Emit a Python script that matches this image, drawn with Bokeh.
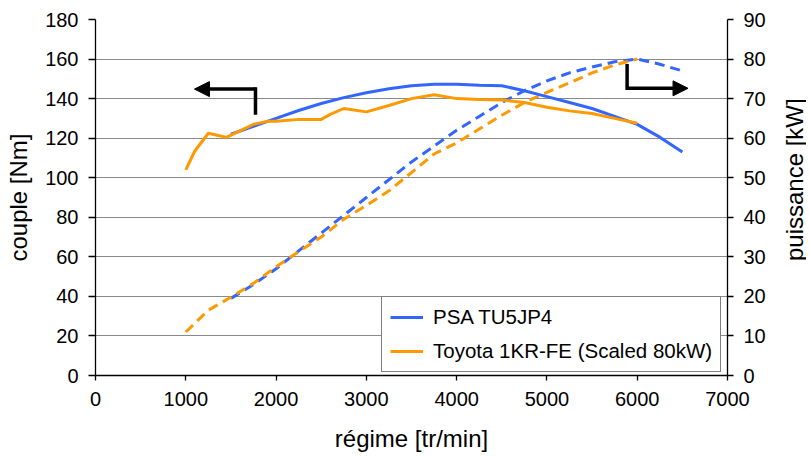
import math
from bokeh.plotting import figure
from bokeh.layouts import row
from bokeh.models import (Range1d, LinearAxis, SingleIntervalTicker, Legend,
                          LegendItem, Arrow, NormalHead, Label)
from bokeh.embed import file_html
from bokeh.resources import INLINE

# ---------------- data ----------------
psa_torque_rpm = [1500, 1750, 2000, 2250, 2500, 2750, 3000, 3250, 3500, 3750, 4000, 4250, 4500,
                  4750, 5000, 5250, 5500, 5750, 6000, 6250, 6500]
psa_torque_nm = [122, 126, 130, 134, 137.5, 140.5, 143, 145, 146.5, 147.3, 147.3, 146.8, 146.5,
                 144, 141, 138, 135, 131, 127, 120.5, 113]

psa_power_rpm = [1500, 1750, 2000, 2250, 2500, 2750, 3000, 3250, 3500, 3750, 4000, 4250, 4500,
                 4750, 5000, 5250, 5500, 5750, 6000, 6250, 6500]
psa_power_kw = [19.5, 23, 27, 31.5, 36, 40.5, 45, 49.5, 54, 58, 62, 65.5, 69,
                72, 74.5, 76.5, 78, 79.3, 80, 78.7, 77]

toy_torque_rpm = [1000, 1100, 1250, 1350, 1450, 1600, 1750, 1900, 2000, 2250, 2500, 2600, 2750,
                  3000, 3250, 3500, 3750, 4000, 4250, 4500, 4750, 5000, 5250, 5500, 5750, 6000]
toy_torque_nm = [104, 113.5, 122.5, 121.5, 120.4, 123.7, 127, 128.5, 128.5, 129.5, 129.5, 132, 135,
                 133.3, 136.5, 140, 142, 140, 139.5, 139.3, 138, 135.6, 133.8, 132.5, 130, 127.5]

toy_power_rpm = [1000, 1250, 1500, 1750, 2000, 2250, 2500, 2750, 3000, 3250, 3500, 3750, 4000,
                 4250, 4500, 4750, 5000, 5250, 5500, 5750, 6000]
toy_power_kw = [11, 16.5, 19.8, 23.3, 27.5, 31.3, 35, 39.5, 43, 46.7, 51.3, 56, 58.8,
                62.3, 65.8, 69, 71.6, 74, 76.5, 78.5, 80]

legend_labels = ["PSA TU5JP4", "Toyota 1KR-FE (Scaled 80kW)"]
right_title_text = "puissance [kW]"

# arrow annotations (rpm, Nm)
left_arrow_rpm = [1772, 1772, 1096]
left_arrow_nm = [132.7, 144.8, 144.8]
right_arrow_rpm = [5888, 5888, 6563]
right_arrow_nm = [156.6, 145.2, 145.2]

BLUE = "#3366FF"
ORANGE = "#FF9900"
FONT = "Liberation Sans"

p = figure(width=769, height=454, output_backend="svg", toolbar_location=None,
           x_range=Range1d(0, 7000), y_range=Range1d(0, 180),
           min_border_left=95, min_border_right=42, min_border_top=19, min_border_bottom=78)
p.extra_y_ranges = {"power": Range1d(0, 90)}
p.outline_line_color = None
p.background_fill_color = "white"

# grid
p.xgrid.visible = False
p.ygrid.grid_line_color = "#8a8a8a"
p.ygrid.grid_line_width = 1
p.ygrid.ticker = SingleIntervalTicker(interval=20)

def style_axis(ax, tick_out, standoff, label_standoff):
    ax.axis_line_color = "black"
    ax.axis_line_width = 1.3
    ax.major_tick_line_color = "black"
    ax.major_tick_line_width = 1.3
    ax.major_tick_out = tick_out
    ax.major_tick_in = 0
    ax.minor_tick_line_color = None
    ax.major_label_text_font = FONT
    ax.major_label_text_font_size = "20px"
    ax.major_label_text_color = "black"
    ax.major_label_standoff = standoff
    ax.axis_label_text_font = FONT
    ax.axis_label_text_font_size = "24px"
    ax.axis_label_text_font_style = "normal"
    ax.axis_label_text_color = "black"
    ax.axis_label_standoff = label_standoff

p.xaxis.ticker = SingleIntervalTicker(interval=1000)
p.xaxis.axis_label = "régime [tr/min]"
style_axis(p.xaxis[0], 5, 11, 16)

p.yaxis.ticker = SingleIntervalTicker(interval=20)
p.yaxis.axis_label = "couple [Nm]"
style_axis(p.yaxis[0], 7, 10, 10)

right = LinearAxis(y_range_name="power", ticker=SingleIntervalTicker(interval=10))
style_axis(right, 6, 10, 10)
p.add_layout(right, "right")

# power (dashed)
p.line(psa_power_rpm, psa_power_kw, y_range_name="power", line_color=BLUE, line_width=3,
       line_dash="10 6")
p.line(toy_power_rpm, toy_power_kw, y_range_name="power", line_color=ORANGE, line_width=3,
       line_dash="10 6")
# torque (solid)
r_psa = p.line(psa_torque_rpm, psa_torque_nm, line_color=BLUE, line_width=3)
r_toy = p.line(toy_torque_rpm, toy_torque_nm, line_color=ORANGE, line_width=3)

# arrows
for xs, ys in [(left_arrow_rpm, left_arrow_nm), (right_arrow_rpm, right_arrow_nm)]:
    p.line(xs[:2], ys[:2], line_color="black", line_width=3.5, line_cap="square")
    p.add_layout(Arrow(x_start=xs[1], y_start=ys[1], x_end=xs[2], y_end=ys[2],
                       line_color="black", line_width=3.5,
                       end=NormalHead(size=15, fill_color="black", line_color="black", line_width=1)))

legend = Legend(items=[LegendItem(label=legend_labels[0], renderers=[r_psa]),
                       LegendItem(label=legend_labels[1], renderers=[r_toy])],
                location=(286, 3), orientation="vertical",
                label_text_font=FONT, label_text_font_size="20.5px", label_text_color="black",
                glyph_width=33, glyph_height=20, label_standoff=10,
                padding=8, spacing=10, margin=0,
                border_line_color="black", border_line_width=1.5,
                background_fill_color="white", background_fill_alpha=1)
p.add_layout(legend, "center")

# narrow side panel carrying the right-hand axis title (reads bottom-to-top)
p2 = figure(width=37, height=454, output_backend="svg", toolbar_location=None,
            x_range=Range1d(0, 1), y_range=Range1d(0, 1),
            x_axis_location=None, y_axis_location=None,
            min_border_left=0, min_border_right=0, min_border_top=0, min_border_bottom=0)
p2.outline_line_color = None
p2.xgrid.visible = False
p2.ygrid.visible = False
p2.add_layout(Label(x=0.68, y=0.55, text=right_title_text, angle=math.pi / 2,
                    text_align="center", text_baseline="middle",
                    text_font=FONT, text_font_size="24px", text_color="black"))

layout = row(p, p2, spacing=0)
open("out.html", "w").write(file_html(layout, INLINE))
